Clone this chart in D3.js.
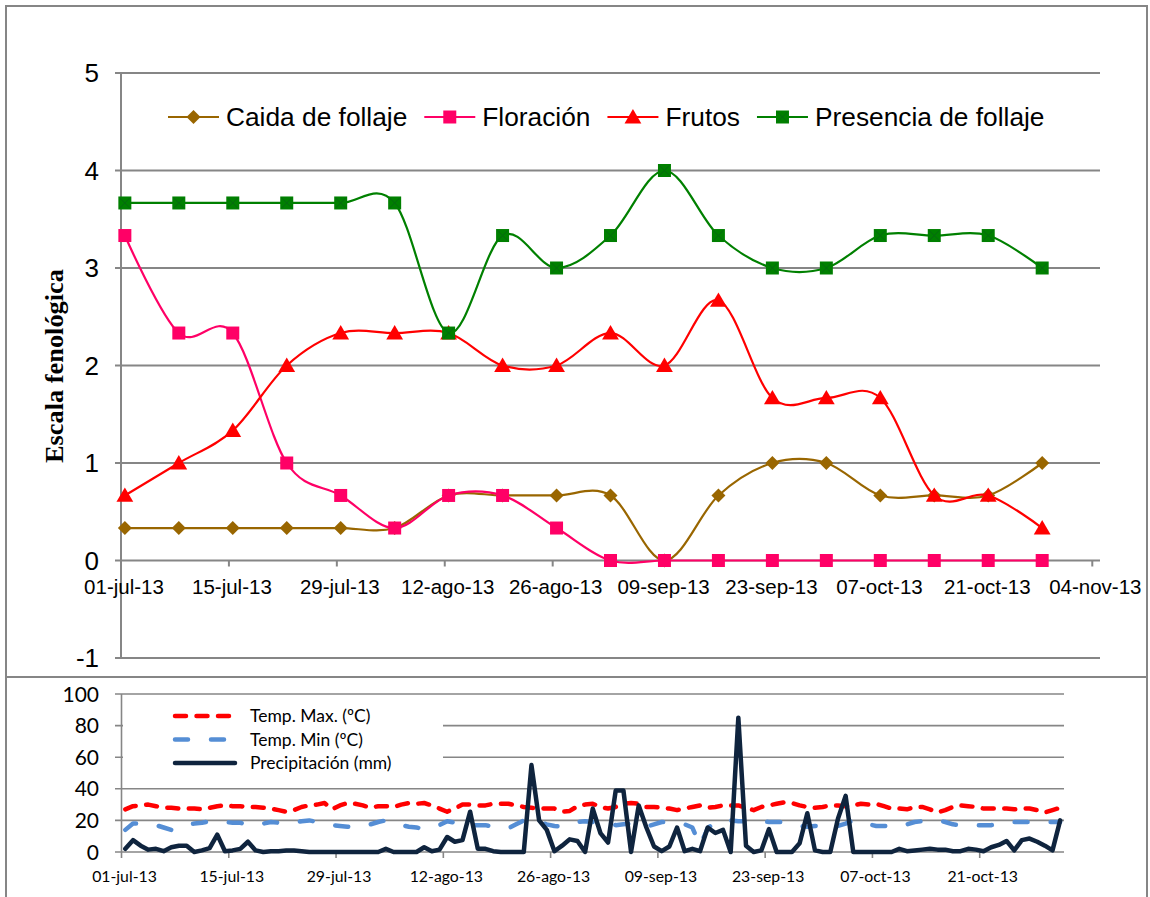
<!DOCTYPE html>
<html>
<head>
<meta charset="utf-8">
<script src="https://cdn.jsdelivr.net/npm/d3@7"></script>
<style>
  body { margin: 0; background: #fff; }
  svg { display: block; }
</style>
</head>
<body>
<div id="chart"></div>
<script>
// ---- weekly phenology data (escala fenológica) ----
var phenoDates = ["2013-07-01", "2013-07-08", "2013-07-15", "2013-07-22", "2013-07-29", "2013-08-05",
    "2013-08-12", "2013-08-19", "2013-08-26", "2013-09-02", "2013-09-09", "2013-09-16",
    "2013-09-23", "2013-09-30", "2013-10-07", "2013-10-14", "2013-10-21", "2013-10-28"];
var caida = [0.333, 0.333, 0.333, 0.333, 0.333, 0.333, 0.667, 0.667, 0.667, 0.667, 0, 0.667, 1, 1, 0.667, 0.667, 0.667, 1];
var floracion = [3.333, 2.333, 2.333, 1, 0.667, 0.333, 0.667, 0.667, 0.333, 0, 0, 0, 0, 0, 0, 0, 0, 0];
var frutos = [0.667, 1, 1.333, 2, 2.333, 2.333, 2.333, 2, 2, 2.333, 2, 2.667, 1.667, 1.667, 1.667, 0.667, 0.667, 0.333];
var presencia = [3.667, 3.667, 3.667, 3.667, 3.667, 3.667, 2.333, 3.333, 3, 3.333, 4, 3.333, 3, 3, 3.333, 3.333, 3.333, 3];
var phenoTicksY = [-1, 0, 1, 2, 3, 4, 5];

// ---- daily climate data, 01-jul-13 .. 31-oct-13 ----
var climateStart = "2013-07-01";
var tempMax = [27, 29, 29.5, 30, 29, 28, 28, 27.5, 27.5, 27.5, 27, 28, 29, 29.5, 29, 29, 28.5, 28.5, 28, 27.5,
    26.5, 25.5, 26.5, 28.5, 29.5, 30, 31, 27, 29.5, 31, 30.5, 29.5, 28, 29, 29, 28.5, 30, 31, 30.5, 31,
    29.5, 27.5, 25.5, 27.5, 30, 30, 29.5, 29.5, 30.5, 30.5, 30.5, 29.5, 28.5, 28, 27.5, 27.5, 27.5, 25.5, 26, 29,
    30, 30.5, 28.5, 27.5, 28.5, 30.5, 31, 30.5, 28.5, 28.5, 28, 27.5, 26.5, 27.5, 28.5, 29.5, 28, 28.5, 29.5, 29.5,
    29.5, 28, 26.5, 28.5, 29.5, 30.5, 31.5, 31, 29.5, 28.5, 28, 28.5, 29.5, 29.5, 29, 29.5, 30.5, 30, 30.5, 29,
    27.5, 27.5, 27, 28.5, 28.5, 27, 25, 26.5, 28.5, 29.5, 29, 28.5, 27.5, 27.5, 27.5, 27.5, 27, 27.5, 27.5, 26.5,
    25, 26.5, 28];
var tempMin = [14, 18, 18, 18, 17, 15.5, 14, 16.5, 17.5, 18, 18.5, 19.5, 19.5, 19, 18.5, 18.5, 17, 17.5, 18, 19,
    18.5, 18, 18.5, 19.5, 20, 19, 17.5, 17, 16.5, 16, 15.5, 16.5, 17.5, 19, 20, 19, 17, 16, 15.5, 14.5,
    15.5, 17, 19.5, 18.5, 17.5, 17, 17, 17, 16, 15.5, 15, 17.5, 20, 20, 19, 17.5, 16.5, 16, 17.5, 19,
    19.5, 19, 19, 18, 17, 17.5, 18, 17, 16, 17.5, 19, 19, 19, 17.5, 15.5, 4, 15, 19, 20, 20,
    19.5, 19.5, 20, 19.5, 19, 19, 19, 17.5, 16.5, 16, 16.5, 16, 15, 16.5, 18, 20, 19.5, 17.5, 16.5, 16.5,
    16, 16, 17.5, 19, 19.5, 20, 20, 19, 17.5, 17, 17, 17, 17, 17, 17.5, 18.5, 19, 19, 19, 19,
    19, 19, 19];
var precip = [2, 7.5, 4, 1.5, 2, 0.5, 3, 4, 4, 0, 1, 2.5, 11, 0.5, 1, 2, 6.5, 1, 0, 0.5,
    0.5, 1, 1, 0.5, 0, 0, 0, 0, 0, 0, 0, 0, 0, 0, 2, 0, 0, 0, 0, 3,
    0.5, 1.5, 9.5, 6.5, 7.5, 25.5, 2, 2, 0.5, 0, 0, 0, 0, 55, 20, 14, 0.5, 4, 8, 7,
    0, 27.5, 12, 6, 39, 39, 0, 29.5, 15.5, 3.5, 0.5, 3.5, 15.5, 0.5, 2, 0.5, 15.5, 12, 14, 0,
    85, 4, 0, 1, 14.5, 0, 0, 0, 5.5, 24.5, 1, 0, 0, 21, 35.5, 0, 0, 0, 0, 0,
    0, 2, 0.5, 1, 1.5, 2, 1.5, 1.5, 0.5, 0.5, 2, 1.5, 0.5, 3, 4.5, 7, 1, 7.5, 8.5, 6.5,
    4, 1, 20];
var climateTicksY = [0, 20, 40, 60, 80, 100];

(function() {

    var width = 1150, height = 897;
    var gridColor = "#868686";

    var es = d3.timeFormatLocale({
        dateTime: "%x %X", date: "%d/%m/%Y", time: "%H:%M:%S", periods: ["AM", "PM"],
        days: ["domingo", "lunes", "martes", "miércoles", "jueves", "viernes", "sábado"],
        shortDays: ["dom", "lun", "mar", "mié", "jue", "vie", "sáb"],
        months: ["enero", "febrero", "marzo", "abril", "mayo", "junio", "julio", "agosto", "septiembre", "octubre", "noviembre", "diciembre"],
        shortMonths: ["ene", "feb", "mar", "abr", "may", "jun", "jul", "ago", "sep", "oct", "nov", "dic"]
    });
    var fmt = es.utcFormat("%d-%b-%y");
    var parse = d3.utcParse("%Y-%m-%d");
    var halfDay = 12 * 3600 * 1000;

    var svg = d3.select("#chart").append("svg")
        .attr("width", width)
        .attr("height", height);

    // frames
    svg.append("rect").attr("x", 6).attr("y", 6).attr("width", 1141).attr("height", 671)
        .attr("fill", "none").attr("stroke", gridColor).attr("stroke-width", 2);
    svg.append("rect").attr("x", 6).attr("y", 677).attr("width", 1141).attr("height", 240)
        .attr("fill", "none").attr("stroke", gridColor).attr("stroke-width", 2);

    // =================== top chart ===================
    var x1 = d3.scaleUtc()
        .domain([parse("2013-07-01"), parse("2013-11-05")])
        .range([121, 1100]);
    var y1 = d3.scaleLinear().domain([-1, 5]).range([658, 73]);

    var topG = svg.append("g");

    // gridlines
    topG.selectAll(".grid").data(phenoTicksY).enter().append("line")
        .attr("x1", 115).attr("x2", 1100)
        .attr("y1", function(d) { return y1(d); })
        .attr("y2", function(d) { return y1(d); })
        .attr("stroke", gridColor).attr("stroke-width", 2);
    topG.append("line").attr("x1", 121).attr("x2", 121).attr("y1", y1(5)).attr("y2", y1(-1))
        .attr("stroke", gridColor).attr("stroke-width", 2);

    topG.selectAll(".ylab").data(phenoTicksY).enter().append("text")
        .attr("x", 99)
        .attr("y", function(d) { return y1(d) + 9; })
        .attr("text-anchor", "end")
        .style("font-family", "'Liberation Sans', Arial, sans-serif")
        .style("font-size", "26px")
        .text(function(d) { return d; });

    var xTicks1 = d3.utcDay.range(parse("2013-07-01"), parse("2013-11-05"), 14);
    topG.selectAll(".xt").data(xTicks1).enter().append("line")
        .attr("x1", function(d) { return x1(d); })
        .attr("x2", function(d) { return x1(d); })
        .attr("y1", y1(0)).attr("y2", y1(0) + 6)
        .attr("stroke", gridColor).attr("stroke-width", 2);
    topG.selectAll(".xl").data(xTicks1).enter().append("text")
        .attr("x", function(d) { return x1(d) + 3; })
        .attr("y", y1(0) + 33)
        .attr("text-anchor", "middle")
        .style("font-family", "'Liberation Sans', Arial, sans-serif")
        .style("font-size", "20.5px")
        .text(function(d) { return fmt(d); });

    topG.append("text")
        .attr("transform", "translate(63,366) rotate(-90)")
        .attr("text-anchor", "middle")
        .attr("textLength", 194)
        .attr("lengthAdjust", "spacingAndGlyphs")
        .style("font-family", "'Liberation Serif', 'Times New Roman', serif")
        .style("font-weight", "bold")
        .style("font-size", "25px")
        .text("Escala fenológica");

    function markerPath(kind, s) {
        if (kind === "diamond") return "M0," + (-s) + "L" + s + ",0L0," + s + "L" + (-s) + ",0Z";
        if (kind === "triangle") return "M0," + (-s) + "L" + (s * 1.05) + "," + (s * 0.8) + "L" + (-s * 1.05) + "," + (s * 0.8) + "Z";
        return "M" + (-s) + "," + (-s) + "H" + s + "V" + s + "H" + (-s) + "Z";
    }

    var phenoSeries = [
        { name: "Caida de follaje", values: caida, color: "#996600", marker: "diamond", size: 7 },
        { name: "Floración", values: floracion, color: "#FF0066", marker: "square", size: 6.5 },
        { name: "Frutos", values: frutos, color: "#FF0000", marker: "triangle", size: 8 },
        { name: "Presencia de follaje", values: presencia, color: "#008000", marker: "square", size: 6.5, cross: true }
    ];

    var dates1 = phenoDates.map(function(s) { return new Date(parse(s).getTime() + halfDay); });

    var smooth = d3.line()
        .x(function(d) { return x1(d.date); })
        .y(function(d) { return y1(d.v); })
        .curve(d3.curveCardinal.tension(0));

    phenoSeries.forEach(function(s) {
        var pts = s.values.map(function(v, i) { return { date: dates1[i], v: v }; });
        var g = topG.append("g");
        g.append("path").datum(pts)
            .attr("d", smooth)
            .attr("fill", "none")
            .attr("stroke", s.color)
            .attr("stroke-width", 2.2);
        var m = g.selectAll(".m").data(pts).enter().append("g")
            .attr("transform", function(d) { return "translate(" + x1(d.date) + "," + y1(d.v) + ")"; });
        m.append("path").attr("d", markerPath(s.marker, s.size)).attr("fill", s.color);
        if (s.cross) {
            m.append("path").attr("d", "M-5,-5L5,5M5,-5L-5,5")
                .attr("stroke", "#0b5a1e").attr("stroke-width", 1).attr("opacity", 0.6);
        }
    });

    // top legend
    var leg = topG.append("g");
    var lx = 168, ly = 117;
    phenoSeries.forEach(function(s) {
        leg.append("line").attr("x1", lx).attr("x2", lx + 51).attr("y1", ly).attr("y2", ly)
            .attr("stroke", s.color).attr("stroke-width", 2.2);
        var mk = leg.append("g").attr("transform", "translate(" + (lx + 25.5) + "," + ly + ")");
        mk.append("path").attr("d", markerPath(s.marker, s.size)).attr("fill", s.color);
        if (s.cross) {
            mk.append("path").attr("d", "M-5,-5L5,5M5,-5L-5,5")
                .attr("stroke", "#0b5a1e").attr("stroke-width", 1).attr("opacity", 0.6);
        }
        var t = leg.append("text")
            .attr("x", lx + 58).attr("y", ly + 9)
            .style("font-family", "'Liberation Sans', Arial, sans-serif")
            .style("font-size", "26.3px")
            .text(s.name);
        lx = lx + 58 + t.node().getComputedTextLength() + 17;
    });

    // =================== bottom chart ===================
    var x2 = d3.scaleUtc()
        .domain([parse("2013-07-01"), parse("2013-11-01")])
        .range([121.5, 1064]);
    var y2 = d3.scaleLinear().domain([0, 100]).range([852, 694]);
    var botG = svg.append("g");

    botG.selectAll(".grid").data(climateTicksY).enter().append("line")
        .attr("x1", 115).attr("x2", 1064)
        .attr("y1", function(d) { return y2(d); })
        .attr("y2", function(d) { return y2(d); })
        .attr("stroke", gridColor).attr("stroke-width", 1.6);
    botG.append("line").attr("x1", 121.5).attr("x2", 121.5).attr("y1", y2(100)).attr("y2", y2(0))
        .attr("stroke", gridColor).attr("stroke-width", 1.6);

    botG.selectAll(".ylab").data(climateTicksY).enter().append("text")
        .attr("x", 99)
        .attr("y", function(d) { return y2(d) + 7.5; })
        .attr("text-anchor", "end")
        .style("font-family", "Lato, 'Open Sans', sans-serif")
        .style("font-size", "21px")
        .text(function(d) { return d; });

    var xTicks2 = d3.utcDay.range(parse("2013-07-01"), parse("2013-11-01"), 14);
    botG.selectAll(".xt").data(xTicks2).enter().append("line")
        .attr("x1", function(d) { return x2(d); })
        .attr("x2", function(d) { return x2(d); })
        .attr("y1", y2(0)).attr("y2", y2(0) + 6)
        .attr("stroke", gridColor).attr("stroke-width", 1.6);
    botG.selectAll(".xl").data(xTicks2).enter().append("text")
        .attr("x", function(d) { return x2(d) + 3; })
        .attr("y", y2(0) + 30)
        .attr("text-anchor", "middle")
        .style("font-family", "Lato, 'Open Sans', sans-serif")
        .style("font-size", "15.8px")
        .text(function(d) { return fmt(d); });

    var days = precip.map(function(v, i) {
        return new Date(d3.utcDay.offset(parse(climateStart), i).getTime() + halfDay);
    });
    var straight = d3.line()
        .x(function(d) { return x2(d.date); })
        .y(function(d) { return y2(d.v); });

    var climateSeries = [
        { name: "Temp. Max. (ºC)", values: tempMax, color: "#FF0000", dash: "11,10.5", width: 4.5 },
        { name: "Temp. Min (ºC)", values: tempMin, color: "#558ED5", dash: "13,23", width: 4.5 },
        { name: "Precipitación (mm)", values: precip, color: "#0F243E", dash: null, width: 4.5 }
    ];

    // legend box (white, sits on the gridlines)
    botG.append("rect").attr("x", 123).attr("y", 702).attr("width", 320).attr("height", 76).attr("fill", "#fff");

    climateSeries.forEach(function(s) {
        var pts = s.values.map(function(v, i) { return { date: days[i], v: v }; });
        botG.append("path").datum(pts)
            .attr("d", straight)
            .attr("fill", "none")
            .attr("stroke", s.color)
            .attr("stroke-width", s.width)
            .attr("stroke-linecap", "round")
            .attr("stroke-linejoin", "round")
            .attr("stroke-dasharray", s.dash);
    });

    climateSeries.forEach(function(s, i) {
        var yy = 716 + i * 23.5;
        botG.append("line").attr("x1", 175).attr("x2", 235).attr("y1", yy).attr("y2", yy)
            .attr("stroke", s.color).attr("stroke-width", s.width)
            .attr("stroke-linecap", "round")
            .attr("stroke-dasharray", s.dash);
        botG.append("text").attr("x", 250).attr("y", yy + 6)
            .style("font-family", "Lato, 'Open Sans', sans-serif")
            .style("font-size", "17.5px")
            .text(s.name);
    });

})();
</script>
</body>
</html>
